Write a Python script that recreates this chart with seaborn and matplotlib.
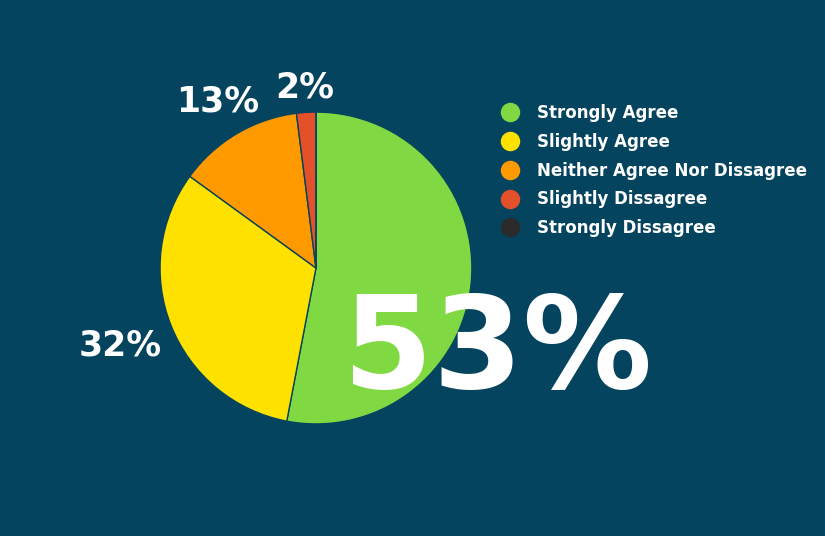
import numpy as np
import pandas as pd
import seaborn as sns
import matplotlib
matplotlib.use('Agg')
from matplotlib import pyplot as plt
from matplotlib.lines import Line2D

categories = ['Strongly Agree', 'Slightly Agree', 'Neither Agree Nor Dissagree',
              'Slightly Dissagree', 'Strongly Dissagree']
shares = [53, 32, 13, 2, 0]
colors = ['#80d942', '#ffe100', '#ff9900', '#e4502a', '#2b2b2b']
bg = '#05445e'

# how far out each slice label sits (fraction of radius), headline slice has none
label_dist = [0, 1.35, 1.24, 1.16, 0]

sns.set_style('white')
plt.rcParams['font.family'] = ['DejaVu Sans']

df = pd.DataFrame({'answer': categories, 'pct': shares})

fig = plt.figure(figsize=(8.25, 5.36), dpi=100, facecolor=bg)
ax = fig.add_axes([0.194, 0.209, 0.378, 0.582])
ax.set_facecolor(bg)

wedges, _ = ax.pie(df.pct, colors=colors,
                   startangle=90, counterclock=False,
                   wedgeprops=dict(edgecolor=bg, linewidth=1))

# percentage labels outside the small slices
for w, p, d in zip(wedges, df.pct, label_dist):
    if p == 0 or d == 0:
        continue
    ang = np.deg2rad((w.theta1 + w.theta2) / 2)
    ax.text(d * np.cos(ang), d * np.sin(ang), f"{p}%", color='white',
            fontsize=25, fontweight='bold', ha='center', va='center')

ax.set_xlim(-1, 1)
ax.set_ylim(-1, 1)
ax.set_aspect('equal')
ax.axis('off')

# big headline number
fig.text(0.603, 0.343, f"{df.pct[0]}%", color='white', fontsize=93,
         fontweight='bold', ha='center', va='center')

handles = [Line2D([], [], marker='o', ls='', markersize=13,
                  markerfacecolor=c, markeredgecolor=c) for c in colors]
leg = fig.legend(handles, categories, loc='upper left',
                 bbox_to_anchor=(0.608, 0.806), frameon=False,
                 handletextpad=1.1, labelspacing=0.65, handlelength=1.0,
                 borderaxespad=0, borderpad=0,
                 prop=dict(size=12, weight='bold'))
for t in leg.get_texts():
    t.set_color('white')

fig.savefig('out.png', dpi=100, facecolor=bg)
